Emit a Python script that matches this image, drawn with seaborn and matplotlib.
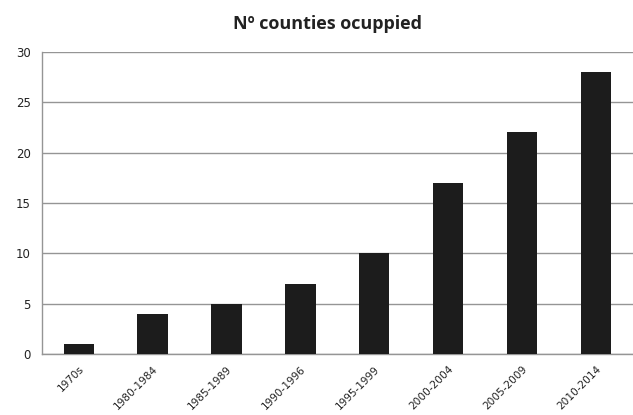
import matplotlib
matplotlib.use("Agg")
import matplotlib.pyplot as plt
import seaborn as sns
import pandas as pd
import numpy as np

periods = ["1970s", "1980-1984", "1985-1989", "1990-1996",
           "1995-1999", "2000-2004", "2005-2009", "2010-2014"]
counties = [1, 4, 5, 7, 10, 17, 22, 28]
y_ticks = [0, 5, 10, 15, 20, 25, 30]

df = pd.DataFrame({"period": periods, "counties": counties})

sns.set_style("white")
plt.rcParams["font.family"] = ["DejaVu Sans"]

fig = plt.figure(figsize=(6.33, 4.15), dpi=100)
ax = fig.add_axes([0.066, 0.147, 0.934, 0.728])

sns.barplot(data=df, x="period", y="counties", color="#1c1c1c",
            width=0.41, saturation=1, ax=ax, zorder=3,
            edgecolor="#1c1c1c", linewidth=0)

ax.set_ylim(0, 30)
ax.set_xlim(-0.5, len(periods) - 0.5)
ax.set_yticks(y_ticks)
ax.yaxis.grid(True, color="#959595", linewidth=1.0, zorder=0)
ax.set_axisbelow(True)

# category labels centred under bars, tick marks at category boundaries
ax.set_xticks(range(len(periods)))
ax.set_xticklabels(periods, rotation=45, ha="right", rotation_mode="anchor",
                   fontsize=7.6, color="#222222")
ax.tick_params(axis="x", which="major", length=0, pad=7)
ax.set_xticks(np.arange(-0.5, len(periods) - 0.5), minor=True)
ax.tick_params(axis="x", which="minor", length=5, color="#959595", width=1)
ax.tick_params(axis="y", length=5, color="#959595", width=1,
               labelsize=8.5, labelcolor="#222222", pad=3)

for side in ["top", "right"]:
    ax.spines[side].set_visible(False)
for side in ["left", "bottom"]:
    ax.spines[side].set_color("#959595")
    ax.spines[side].set_linewidth(1.0)

ax.set_xlabel("")
ax.set_ylabel("")
fig.text(0.518, 0.930, "Nº counties ocuppied", ha="center", va="baseline",
         fontsize=13, fontweight="bold", color="#222222",
         family=["Open Sans", "DejaVu Sans"])

fig.savefig("out.png", dpi=100)
